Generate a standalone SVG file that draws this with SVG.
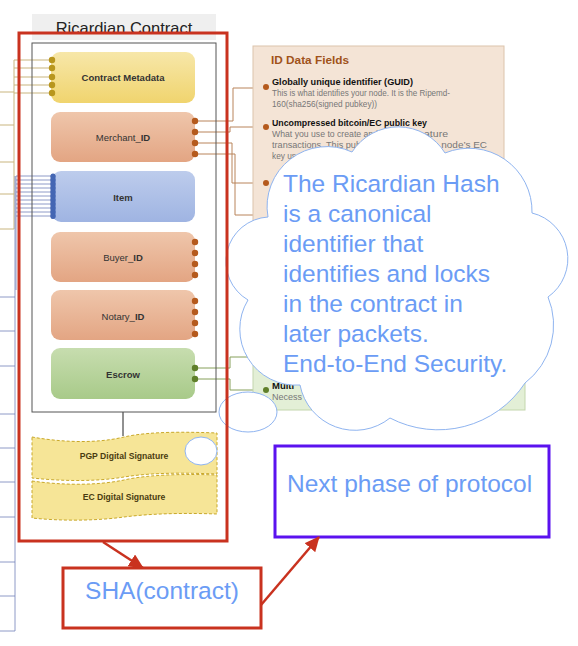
<svg xmlns="http://www.w3.org/2000/svg" width="578" height="646" viewBox="0 0 578 646">
<defs>
<linearGradient id="gY" x1="0" y1="0" x2="0" y2="1"><stop offset="0" stop-color="#f7e7a9"/><stop offset="1" stop-color="#f0d46e"/></linearGradient>
<linearGradient id="gS" x1="0" y1="0" x2="0" y2="1"><stop offset="0" stop-color="#efc6ab"/><stop offset="1" stop-color="#e3a583"/></linearGradient>
<linearGradient id="gB" x1="0" y1="0" x2="0" y2="1"><stop offset="0" stop-color="#bdccec"/><stop offset="1" stop-color="#9fb4e2"/></linearGradient>
<linearGradient id="gG" x1="0" y1="0" x2="0" y2="1"><stop offset="0" stop-color="#c7ddaf"/><stop offset="1" stop-color="#a8ca89"/></linearGradient>
<marker id="ah" markerUnits="userSpaceOnUse" markerWidth="16" markerHeight="14" refX="14" refY="7" orient="auto"><path d="M0,0 L15,7 L0,14 Z" fill="#c9321f"/></marker>
</defs>
<style>
.lbl{font-family:"Liberation Sans",Arial,sans-serif;font-size:9.5px;fill:#333;text-anchor:middle}
.b{font-weight:bold}
.node{stroke:none}
.tan{stroke:#c9b57e;stroke-width:1;fill:none}
.blu{stroke:#7282b9;stroke-width:0.8;fill:none}
.brn{stroke:#b9845a;stroke-width:1;fill:none}
.grn{stroke:#86a05a;stroke-width:1;fill:none}
.dY{fill:#b8961e}
.dS{fill:#b55a1d}
.dB{fill:#4466b3}
.dG{fill:#5f7f2a}
.sig{fill:#f6e597;stroke:#c9a82a;stroke-width:1;stroke-dasharray:3 2}
.sigt{font-family:"Liberation Sans",Arial,sans-serif;font-size:8.6px;font-weight:bold;fill:#4a3c10;text-anchor:middle}
.pf{font-family:"Liberation Sans",Arial,sans-serif;font-size:9px;fill:#777}
.pb{font-family:"Liberation Sans",Arial,sans-serif;font-size:9.5px;font-weight:bold;fill:#111}
.big{font-family:"Liberation Sans",Arial,sans-serif;font-size:24.5px;fill:#6b9cf5}
.red{fill:none;stroke:#c9321f;stroke-width:3}
.bub{fill:#fff;stroke:#8fb4f0;stroke-width:1}
</style>

<!-- title band -->
<g id="title">
<rect x="32" y="14" width="184" height="26" fill="#efefef"/>
<text x="124" y="34" font-family="Liberation Sans,Arial,sans-serif" font-size="16.5" fill="#222" text-anchor="middle">Ricardian Contract</text>
</g>

<!-- connectors -->
<g id="connectors">
<path class="tan" d="M14,60 H52 M14,68 H52 M14,77 H52 M14,85 H52 M14,93 H52 M14,60 V229 M0,92 H14 M0,125 H14 M0,162 H14 M0,194 H14 M0,229 H14"/>
<path class="blu" d="M16,176 H53 M16,180 H53 M16,184 H53 M16,188 H53 M16,192 H53 M16,196 H53 M16,200 H53 M16,204 H53 M16,208 H53 M16,212 H53 M16,216 H53 M16,176 V290 M15,176 V631 M0,297 H15 M0,331 H15 M0,366 H15 M0,414 H15 M0,448 H15 M0,482 H15 M0,517 H15 M0,562 H15 M0,596 H15 M0,631 H15"/>
<path class="brn" d="M196,121 H233 V88 H264 M196,132 H230 V127 H264 M196,143 H232 V183 H264 M196,154 H235 V215 H258"/>
<path class="grn" d="M196,368 H230 V357 H258 M196,379 H230 V390 H264"/>
<line x1="123" y1="412" x2="123" y2="436" stroke="#222" stroke-width="1"/>
</g>

<!-- inner contract box -->
<g id="contract-box">
<rect x="32" y="43" width="184" height="369" fill="none" stroke="#555" stroke-width="1"/>
</g>

<g id="contract-metadata">
<rect class="node" x="51" y="52" width="144" height="51" rx="9" fill="url(#gY)"/>
<text class="lbl b" x="123" y="81" font-size="9.2">Contract Metadata</text>
<circle class="dY" cx="52" cy="60" r="3.2"/><circle class="dY" cx="52" cy="68" r="3.2"/><circle class="dY" cx="52" cy="77" r="3.2"/><circle class="dY" cx="52" cy="85" r="3.2"/><circle class="dY" cx="52" cy="93" r="3.2"/>
</g>
<g id="merchant-id">
<rect class="node" x="51" y="112" width="144" height="50" rx="9" fill="url(#gS)"/>
<text class="lbl" x="123" y="141">Merchant_<tspan class="b">ID</tspan></text>
<circle class="dS" cx="195" cy="121" r="3.2"/><circle class="dS" cx="195" cy="132" r="3.2"/><circle class="dS" cx="195" cy="143" r="3.2"/><circle class="dS" cx="195" cy="154" r="3.2"/>
</g>
<g id="item">
<rect class="node" x="52" y="171" width="143" height="51" rx="9" fill="url(#gB)"/>
<text class="lbl b" x="123" y="201">Item</text>
<rect x="50.5" y="174" width="5" height="45" rx="2.5" fill="#4466b3"/>
<circle class="dB" cx="53" cy="176" r="2.5"/><circle class="dB" cx="53" cy="180" r="2.5"/><circle class="dB" cx="53" cy="184" r="2.5"/><circle class="dB" cx="53" cy="188" r="2.5"/><circle class="dB" cx="53" cy="192" r="2.5"/><circle class="dB" cx="53" cy="196" r="2.5"/><circle class="dB" cx="53" cy="200" r="2.5"/><circle class="dB" cx="53" cy="204" r="2.5"/><circle class="dB" cx="53" cy="208" r="2.5"/><circle class="dB" cx="53" cy="212" r="2.5"/><circle class="dB" cx="53" cy="216" r="2.5"/>
</g>
<g id="buyer-id">
<rect class="node" x="51" y="232" width="144" height="50" rx="9" fill="url(#gS)"/>
<text class="lbl" x="123" y="261">Buyer_<tspan class="b">ID</tspan></text>
<circle class="dS" cx="195" cy="242" r="3.2"/><circle class="dS" cx="195" cy="253" r="3.2"/><circle class="dS" cx="195" cy="264" r="3.2"/><circle class="dS" cx="195" cy="275" r="3.2"/>
</g>
<g id="notary-id">
<rect class="node" x="51" y="290" width="144" height="50" rx="9" fill="url(#gS)"/>
<text class="lbl" x="123" y="320">Notary_<tspan class="b">ID</tspan></text>
<circle class="dS" cx="195" cy="301" r="3.2"/><circle class="dS" cx="195" cy="312" r="3.2"/><circle class="dS" cx="195" cy="323" r="3.2"/><circle class="dS" cx="195" cy="334" r="3.2"/>
</g>
<g id="escrow">
<rect class="node" x="51" y="348" width="144" height="51" rx="9" fill="url(#gG)"/>
<text class="lbl b" x="123" y="378">Escrow</text>
<circle class="dG" cx="195" cy="368" r="3.2"/><circle class="dG" cx="195" cy="379" r="3.2"/>
</g>

<g id="pgp-signature">
<path class="sig" d="M32,437 C60,442 95,444 124,437 C150,431 190,432 217,433 L217,474 C190,473 155,472 124,477 C95,482 60,481 32,478 Z"/>
<text class="sigt" x="124" y="459">PGP Digital Signature</text>
</g>
<g id="ec-signature">
<path class="sig" d="M32,481 C60,485 95,486 124,480 C150,474 190,474 217,475 L217,514 C190,513 155,513 124,517 C95,521 60,521 32,518 Z"/>
<text class="sigt" x="124" y="500">EC Digital Signature</text>
</g>

<!-- ID Data Fields panel -->
<g id="id-data-fields">
<rect x="253" y="46" width="251" height="300" fill="#f4e4d6" stroke="#dcc4ac" stroke-width="1"/>
<rect x="253" y="346" width="272" height="64" fill="#e3efd6" stroke="#c3d6ad" stroke-width="1"/>
<text x="271" y="64" font-family="Liberation Sans,Arial,sans-serif" font-size="11.8" font-weight="bold" fill="#a0521a">ID Data Fields</text>
<circle class="dS" cx="266" cy="87" r="3"/>
<text class="pb" x="272" y="85" textLength="141" lengthAdjust="spacingAndGlyphs">Globally unique identifier (GUID)</text>
<text class="pf" x="272" y="96" textLength="178" lengthAdjust="spacingAndGlyphs">This is what identifies your node. It is the Ripemd-</text>
<text class="pf" x="272" y="107" textLength="105" lengthAdjust="spacingAndGlyphs">160(sha256(signed pubkey))</text>
<circle class="dS" cx="266" cy="127" r="3"/>
<text class="pb" x="272" y="126" textLength="155" lengthAdjust="spacingAndGlyphs">Uncompressed bitcoin/EC public key</text>
<text class="pf" x="272" y="137" textLength="106" lengthAdjust="spacingAndGlyphs">What you use to create and</text>
<text class="pf" x="424" y="137" textLength="24" lengthAdjust="spacingAndGlyphs">ature</text>
<text class="pf" x="272" y="148" textLength="93" lengthAdjust="spacingAndGlyphs">transactions. This publi</text>
<text class="pf" x="433" y="148" textLength="54" lengthAdjust="spacingAndGlyphs">e node’s EC</text>
<text class="pf" x="272" y="159" textLength="24" lengthAdjust="spacingAndGlyphs">key us</text>
<circle class="dS" cx="266" cy="183" r="3"/>
<circle class="dG" cx="266" cy="390" r="3"/>
<text class="pb" x="272" y="389">Multi</text>
<text class="pf" x="272" y="400">Necess</text>
<text class="pf" x="480" y="400">s.</text>
</g>

<!-- cloud -->
<g id="cloud">
<path class="bub" d="M268,217 A60,60 0 0 1 352,152 A55,55 0 0 1 445,153 A63,63 0 0 1 532,213 A47,47 0 0 1 548,297 A73,73 0 0 1 525,383 A104,104 0 0 1 390,418 A56,56 0 0 1 300,385 A56,56 0 0 1 248,300 A44.6,44.6 0 0 1 268,217 Z"/>
<text class="big" x="283" y="192">The Ricardian Hash</text>
<text class="big" x="283" y="222">is a canonical</text>
<text class="big" x="283" y="252">identifier that</text>
<text class="big" x="283" y="282">identifies and locks</text>
<text class="big" x="283" y="312">in the contract in</text>
<text class="big" x="283" y="342">later packets.</text>
<text class="big" x="283" y="372">End-to-End Security.</text>
</g>
<g id="bubbles">
<ellipse class="bub" cx="248" cy="412" rx="29" ry="20"/>
<ellipse class="bub" cx="201" cy="451" rx="16" ry="14"/>
</g>

<!-- red contract frame -->
<g id="contract-frame">
<rect class="red" x="19" y="33" width="208" height="508"/>
</g>

<g id="sha-contract">
<rect class="red" x="63" y="568" width="198" height="60"/>
<text class="big" x="162" y="599" text-anchor="middle">SHA(contract)</text>
</g>

<g id="next-phase">
<rect x="275" y="446" width="274" height="91" fill="none" stroke="#5b12ef" stroke-width="3"/>
<text class="big" x="287" y="492">Next phase of protocol</text>
</g>

<g id="arrows">
<line x1="103" y1="542" x2="143" y2="568" stroke="#c9321f" stroke-width="2.5" marker-end="url(#ah)"/>
<line x1="261" y1="605" x2="319" y2="537" stroke="#c9321f" stroke-width="2.5" marker-end="url(#ah)"/>
</g>
</svg>
